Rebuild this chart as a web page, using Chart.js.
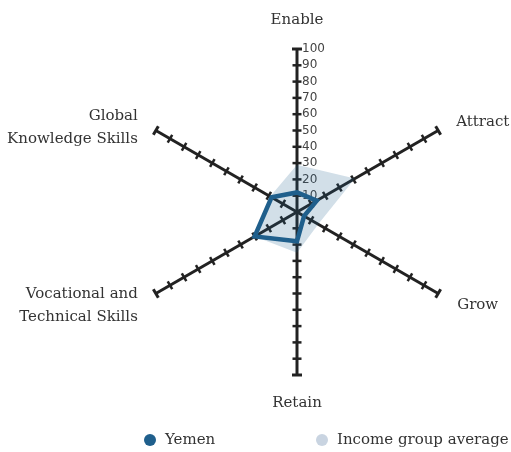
<!DOCTYPE html>
<html>
<head>
<meta charset="utf-8">
<script src="https://cdn.jsdelivr.net/npm/chart.js@4"></script>
<style>
  html, body { margin: 0; padding: 0; background: #ffffff; }
  #wrap { width: 511px; height: 452px; }
</style>
</head>
<body>
<div id="wrap"><canvas id="c" width="511" height="452"></canvas></div>
<script>
// ---- data ----
const categories = ['Enable', 'Attract', 'Grow', 'Retain', 'Vocational and Technical Skills', 'Global Knowledge Skills'];
const categoryLines = [['Enable'], ['Attract'], ['Grow'], ['Retain'], ['Vocational and', 'Technical Skills'], ['Global', 'Knowledge Skills']];
const seriesNames = ['Yemen', 'Income group average'];
const yemenValues = [12, 14, 5, 18, 30, 18];
const incomeValues = [29, 41, 15, 25, 30, 19];
const tickValues = [10, 20, 30, 40, 50, 60, 70, 80, 90, 100];

// ---- styles ----
const DARK_BLUE = '#1f5f8c';
const FILL_BLUE = 'rgba(31, 95, 140, 0.2)';
const LEGEND_LIGHT = '#c9d4e1';
const AXIS_COLOR = '#222222';
const TEXT_COLOR = '#333333';
const SERIF = '"DejaVu Serif", serif';
const SANS = '"DejaVu Sans", sans-serif';

// label placement relative to each axis end
const labelPlacement = [
  { dx: 0, dy: -29, align: 'center' },
  { dx: 18, dy: -8, align: 'left' },
  { dx: 19, dy: 11.5, align: 'left' },
  { dx: 0, dy: 28, align: 'center' },
  { dx: -18, dy: 12, align: 'right' },
  { dx: -18, dy: -3, align: 'right' }
];

const axisPlugin = {
  id: 'axisTicks',
  beforeDatasetsDraw(chart) {
    const s = chart.scales.r;
    const ctx = chart.ctx;
    const n = chart.data.labels.length;
    ctx.save();
    ctx.strokeStyle = AXIS_COLOR;
    ctx.lineCap = 'butt';
    for (let i = 0; i < n; i++) {
      const ang = s.getIndexAngle(i) - Math.PI / 2;
      const px = -Math.sin(ang), py = Math.cos(ang);
      for (const v of tickValues) {
        const p = s.getPointPositionForValue(i, v);
        const half = v === 100 ? 5 : 4.5;
        ctx.lineWidth = v === 100 ? 3 : 2.5;
        ctx.beginPath();
        ctx.moveTo(p.x - px * half, p.y - py * half);
        ctx.lineTo(p.x + px * half, p.y + py * half);
        ctx.stroke();
      }
    }
    // tick labels on first axis
    ctx.fillStyle = '#444444';
    ctx.font = '12px ' + SANS;
    ctx.textAlign = 'left';
    ctx.textBaseline = 'middle';
    for (const v of tickValues) {
      const p = s.getPointPositionForValue(0, v);
      ctx.fillText(String(v), p.x + 5, p.y);
    }
    ctx.restore();
  },
  afterDraw(chart) {
    const s = chart.scales.r;
    const ctx = chart.ctx;
    ctx.save();
    ctx.fillStyle = TEXT_COLOR;
    ctx.font = '15px ' + SERIF;
    ctx.textBaseline = 'middle';
    const lineH = 23;
    categoryLines.forEach((lines, i) => {
      const end = s.getPointPositionForValue(i, 100);
      const pl = labelPlacement[i];
      ctx.textAlign = pl.align;
      const y0 = end.y + pl.dy - (lines.length - 1) * lineH / 2;
      lines.forEach((t, k) => ctx.fillText(t, end.x + pl.dx, y0 + k * lineH));
    });
    // legend
    const legendItems = [
      { x: 150, color: DARK_BLUE, text: seriesNames[0] },
      { x: 322, color: LEGEND_LIGHT, text: seriesNames[1] }
    ];
    const ly = 440;
    ctx.textAlign = 'left';
    legendItems.forEach(it => {
      ctx.fillStyle = it.color;
      ctx.beginPath();
      ctx.arc(it.x, ly, 6, 0, Math.PI * 2);
      ctx.fill();
      ctx.fillStyle = TEXT_COLOR;
      ctx.fillText(it.text, it.x + 15, ly);
    });
    ctx.restore();
  }
};

new Chart(document.getElementById('c'), {
  type: 'radar',
  data: {
    labels: categories,
    datasets: [
      {
        label: seriesNames[0],
        data: yemenValues,
        borderColor: DARK_BLUE,
        backgroundColor: 'rgba(0,0,0,0)',
        borderWidth: 4.5,
        fill: false,
        pointRadius: 0,
        pointHoverRadius: 0
      },
      {
        label: seriesNames[1],
        data: incomeValues,
        borderColor: 'rgba(0,0,0,0)',
        backgroundColor: FILL_BLUE,
        borderWidth: 0,
        fill: true,
        pointRadius: 0,
        pointHoverRadius: 0
      }
    ]
  },
  options: {
    responsive: false,
    devicePixelRatio: 1,
    animation: false,
    layout: { padding: { left: 134, right: 51, top: 49, bottom: 77 } },
    plugins: {
      legend: { display: false },
      tooltip: { enabled: false }
    },
    elements: { line: { tension: 0 } },
    scales: {
      r: {
        min: 0,
        max: 100,
        ticks: { stepSize: 10, display: false },
        grid: { display: false },
        angleLines: { display: true, color: AXIS_COLOR, lineWidth: 3 },
        pointLabels: { display: false }
      }
    }
  },
  plugins: [axisPlugin]
});
</script>
</body>
</html>
